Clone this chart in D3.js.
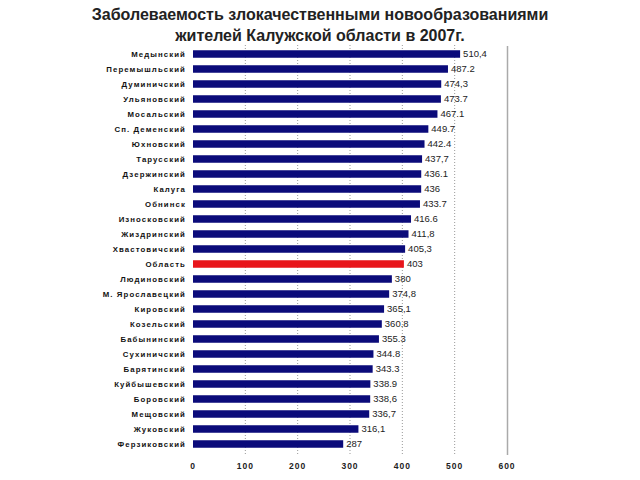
<!DOCTYPE html>
<html>
<head>
<meta charset="utf-8">
<script src="https://cdn.jsdelivr.net/npm/d3@7"></script>
<style>
  body { margin: 0; background: #fff; }
  svg { display: block; }
</style>
</head>
<body>
<svg id="chart" width="640" height="480"></svg>
<script>
const titleLines = ["Заболеваемость злокачественными новообразованиями", "жителей Калужской области в 2007г."];
const categories = ["Медынский","Перемышльский","Думиничский","Ульяновский","Мосальский","Сп. Деменский","Юхновский","Тарусский","Дзержинский","Калуга","Обнинск","Износковский","Жиздринский","Хвастовичский","Область","Людиновский","М. Ярославецкий","Кировский","Козельский","Бабынинский","Сухиничский","Барятинский","Куйбышевский","Боровский","Мещовский","Жуковский","Ферзиковский"];
const values = [510.4,487.2,474.3,473.7,467.1,449.7,442.4,437.7,436.1,436,433.7,416.6,411.8,405.3,403,380,374.8,365.1,360.8,355.3,344.8,343.3,338.9,338.6,336.7,316.1,287];
const valueLabels = ["510,4","487.2","474,3","473.7","467.1","449.7","442.4","437,7","436.1","436","433.7","416.6","411,8","405,3","403","380","374,8","365,1","360.8","355.3","344.8","343.3","338.9","338,6","336,7","316,1","287"];
const highlight = "Область";
const xTicks = [0,100,200,300,400,500,600];

const svg = d3.select("#chart");
const x = d3.scaleLinear().domain([0,600]).range([193,507]);
const y = d3.scaleBand().domain(categories).range([46.5,451.5]).paddingInner(0.5).paddingOuter(0.25);

// title
svg.append("g").selectAll("text").data(titleLines).join("text")
  .attr("x", 320).attr("y", (d,i)=> 20 + i*21)
  .attr("text-anchor","middle")
  .attr("font-family","Liberation Sans, Arial, sans-serif")
  .attr("font-weight","bold").attr("font-size", 16)
  .attr("fill","#222")
  .text(d=>d);

// gridlines
svg.append("g").selectAll("line").data(xTicks.filter(t=>t>0 && t<600)).join("line")
  .attr("x1", d=>x(d)).attr("x2", d=>x(d))
  .attr("y1", 45).attr("y2", 455)
  .attr("stroke","#999").attr("stroke-width",1)
  .attr("stroke-dasharray","1,2");

// right border line
svg.append("line")
  .attr("x1", x(600)+0.5).attr("x2", x(600)+0.5)
  .attr("y1", 46).attr("y2", 455)
  .attr("stroke","#aaa").attr("stroke-width",1.5);

// bars
const data = categories.map((c,i)=>({c, v: values[i], l: valueLabels[i]}));
svg.append("g").selectAll("rect").data(data).join("rect")
  .attr("x", x(0))
  .attr("y", d=>y(d.c))
  .attr("width", d=>x(d.v)-x(0))
  .attr("height", y.bandwidth())
  .attr("fill", d=> d.c===highlight ? "#e8151b" : "#0b0b7a");

// value labels
svg.append("g").selectAll("text").data(data).join("text")
  .attr("x", d=>x(d.v)+3)
  .attr("y", d=>y(d.c)+y.bandwidth()/2)
  .attr("dy","0.36em")
  .attr("font-family","Liberation Sans, Arial, sans-serif")
  .attr("font-size", 9.5)
  .attr("fill","#222")
  .text(d=>d.l);

// category labels
svg.append("g").selectAll("text").data(categories).join("text")
  .attr("x", 186)
  .attr("y", d=>y(d)+y.bandwidth()/2)
  .attr("dy","0.36em")
  .attr("text-anchor","end")
  .attr("font-family","Liberation Sans, Arial, sans-serif")
  .attr("font-weight","bold")
  .attr("font-size", 7.8)
  .attr("letter-spacing", 1.1)
  .attr("fill","#111")
  .text(d=>d);

// x tick labels
svg.append("g").selectAll("text").data(xTicks).join("text")
  .attr("x", d=>x(d))
  .attr("y", 469)
  .attr("text-anchor","middle")
  .attr("font-family","Liberation Sans, Arial, sans-serif")
  .attr("font-weight","bold")
  .attr("font-size", 8.5)
  .attr("letter-spacing", 1)
  .attr("fill","#222")
  .text(d=>d);
</script>
</body>
</html>
